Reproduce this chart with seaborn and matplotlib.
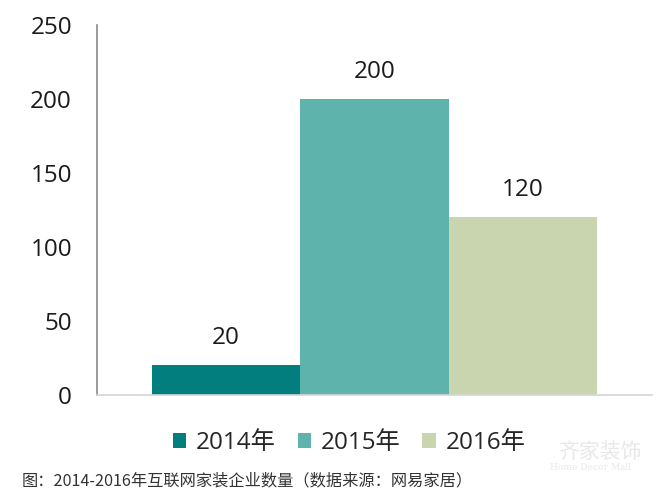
import matplotlib.pyplot as plt
import pandas as pd
import seaborn as sns

years = ["2014年", "2015年", "2016年"]
counts = [20, 200, 120]
colors = ["#037E7E", "#5FB3AD", "#C8D5AE"]
y_ticks = [0, 50, 100, 150, 200, 250]
caption = "图：2014-2016年互联网家装企业数量（数据来源：网易家居）"

sns.set_theme(style="white")
plt.rcParams["font.family"] = ["Open Sans", "Noto Sans CJK SC", "DejaVu Sans"]

df = pd.DataFrame({"year": years, "count": counts})

fig = plt.figure(figsize=(6.63, 4.99), dpi=100)
ax = fig.add_axes([0.1463, 0.2084, 0.9834 - 0.1463, 0.95 - 0.2084])

sns.barplot(
    data=df,
    x="year",
    y="count",
    hue="year",
    palette=colors,
    width=1.0,
    saturation=1,
    linewidth=0,
    legend=True,
    ax=ax,
)

for cont in ax.containers:
    ax.bar_label(cont, padding=11, fontsize=17.5, color="#1a1a1a",
                 family=["Open Sans", "DejaVu Sans"])

ax.set_ylim(0, 250)
ax.set_xlim(-0.87, 2.87)
ax.set_yticks(y_ticks)
ax.set_yticklabels([str(t) for t in y_ticks], fontsize=17.5, color="#1a1a1a")
ax.tick_params(axis="y", length=0, pad=18)
ax.set_xticks([])
ax.set_xlabel("")
ax.set_ylabel("")

for side in ["top", "right"]:
    ax.spines[side].set_visible(False)
ax.spines["left"].set_color("#8a8a8a")
ax.spines["left"].set_linewidth(1.2)
ax.spines["bottom"].set_color("#d6d6d6")
ax.spines["bottom"].set_linewidth(1.2)

handles, labels = ax.get_legend_handles_labels()
ax.legend(
    handles, labels,
    loc="center",
    bbox_to_anchor=(349 / 663, 1 - 443 / 499),
    bbox_transform=fig.transFigure,
    ncol=3,
    frameon=False,
    handlelength=0.55,
    handleheight=0.6,
    handletextpad=0.4,
    columnspacing=0.9,
    prop={"family": ["Open Sans", "Noto Sans CJK SC"], "size": 17.5},
)

fig.text(22 / 663, 1 - 481 / 499, caption, fontsize=11.7, color="#333333",
         va="center", ha="left", family=["Noto Sans CJK SC", "DejaVu Sans"])

# faint watermark
fig.text(600 / 663, 1 - 452 / 499, "齐家装饰", fontsize=15, color="#e8e8e8",
         ha="center", va="center", family=["Noto Sans CJK SC"])
fig.text(590 / 663, 1 - 468 / 499, "Home Decor Mall", fontsize=6.5, color="#e8e8e8",
         ha="center", va="center", family=["DejaVu Serif"])

fig.savefig("out.png", dpi=100)
